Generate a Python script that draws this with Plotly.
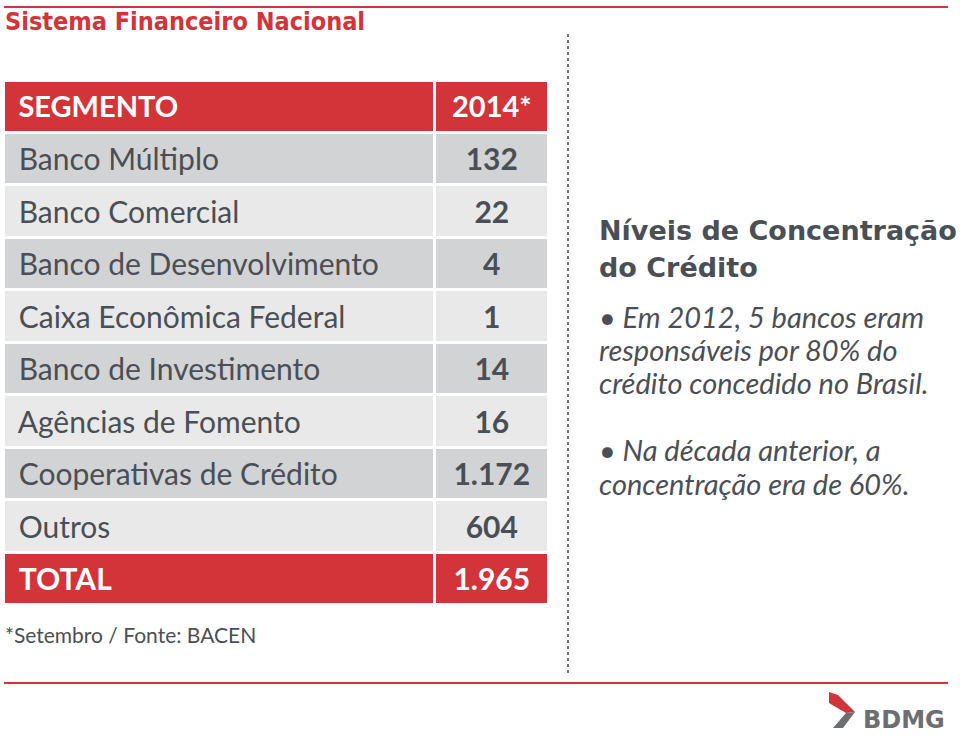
import plotly.graph_objects as go

segmentos = ["Banco Múltiplo", "Banco Comercial", "Banco de Desenvolvimento",
             "Caixa Econômica Federal", "Banco de Investimento", "Agências de Fomento",
             "Cooperativas de Crédito", "Outros"]
valores = [132, 22, 4, 1, 14, 16, 1172, 604]
total = 1965
header = ["SEGMENTO", "2014*"]
titulo = "Sistema Financeiro Nacional"
painel_titulo = ["Níveis de Concentração", "do Crédito"]
bullet1 = ["• Em 2012, 5 bancos eram", "responsáveis por 80% do", "crédito concedido no Brasil."]
bullet2 = ["• Na década anterior, a", "concentração era de 60%."]
fonte = "*Setembro / Fonte: BACEN"

W, H = 960, 736
RED = "#d3343a"
GREY_TXT = "#4a4f56"
DARK = "#d2d3d4"
LIGHT = "#e9e9e9"
NB = "\u00a0"

def fmt(v):
    return f"{v:,}".replace(",", ".")

def px(x):
    return x / W

def py(y):
    return 1 - y / H

col1 = [f"<span>{NB}{s.replace(' ', NB)}</span>" for s in segmentos] + [NB + "<b>TOTAL</b>"]
col2 = [f"<b>{fmt(v)}</b>" for v in valores] + [f"<b>{fmt(total)}</b>"]
n = len(segmentos)
fills = [DARK if i % 2 == 0 else LIGHT for i in range(n)] + [RED]
fcolors = [GREY_TXT] * n + ["white"]

fig = go.Figure()
fig.add_trace(go.Table(
    domain=dict(x=[px(3), px(549)], y=[py(609), py(80)]),
    columnwidth=[430, 114],
    header=dict(values=[NB + f"<b>{header[0]}</b>", f"<b>{header[1]}</b>"],
                fill_color=RED, font=dict(color="white", size=29, family="Lato"),
                align=["left", "center"], height=52,
                line=dict(color="white", width=3)),
    cells=dict(values=[col1, col2],
               fill_color=[fills, fills],
               font=dict(color=[fcolors, fcolors], size=30, family="Lato"),
               align=["left", "center"], height=52.5,
               line=dict(color="white", width=3)),
))

shapes = [
    dict(type="line", xref="paper", yref="paper", x0=px(4), x1=px(948), y0=py(7), y1=py(7),
         line=dict(color=RED, width=2)),
    dict(type="line", xref="paper", yref="paper", x0=px(4), x1=px(948), y0=py(683), y1=py(683),
         line=dict(color=RED, width=2)),
    dict(type="line", xref="paper", yref="paper", x0=px(568), x1=px(568), y0=py(34), y1=py(673),
         line=dict(color="#777777", width=2, dash="dot")),
]
def poly(pts, color):
    d = "M " + " L ".join(f"{px(x)},{py(y)}" for x, y in pts) + " Z"
    return dict(type="path", xref="paper", yref="paper", path=d, fillcolor=color, line=dict(width=0))
shapes.append(poly([(829, 692), (838, 695), (855, 712), (846, 713), (829, 703)], RED))
shapes.append(poly([(846, 713), (855, 712), (843, 728), (833, 728)], "#6d6e71"))

ann = []
ann.append(dict(text=f"<b>{titulo}</b>", x=px(3), y=py(22), xref="paper", yref="paper", xanchor="left",
                yanchor="middle", showarrow=False,
                font=dict(family="DejaVu Sans Condensed, Roboto Condensed, Roboto",
                          size=25, color=RED)))
for i, t in enumerate(painel_titulo):
    ann.append(dict(text=f"<b>{t}</b>", x=px(597), y=py(230 + 37 * i), xref="paper", yref="paper",
                    xanchor="left", yanchor="middle", showarrow=False,
                    font=dict(family="DejaVu Sans", size=27, color=GREY_TXT)))
for i, t in enumerate(bullet1):
    ann.append(dict(text=f"<i>{t}</i>", x=px(597), y=py(316 + 33 * i), xref="paper", yref="paper",
                    xanchor="left", yanchor="middle", showarrow=False,
                    font=dict(family="Lato", size=29, color=GREY_TXT)))
for i, t in enumerate(bullet2):
    ann.append(dict(text=f"<i>{t}</i>", x=px(597), y=py(449 + 34 * i), xref="paper", yref="paper",
                    xanchor="left", yanchor="middle", showarrow=False,
                    font=dict(family="Lato", size=29, color=GREY_TXT)))
ann.append(dict(text=fonte, x=px(3), y=py(634), xref="paper", yref="paper", xanchor="left",
                yanchor="middle", showarrow=False,
                font=dict(family="Lato", size=21, color=GREY_TXT)))
ann.append(dict(text="<b>BDMG</b>", x=px(861), y=py(720), xref="paper", yref="paper", xanchor="left",
                yanchor="middle", showarrow=False,
                font=dict(family="DejaVu Sans", size=24, color="#6d6e71")))

fig.update_layout(width=W, height=H, margin=dict(l=0, r=0, t=0, b=0),
                  paper_bgcolor="white", plot_bgcolor="white",
                  shapes=shapes, annotations=ann)
fig.write_html("out.html", config={"displayModeBar": False})

with open("out.html", encoding="utf-8") as f:
    html = f.read()
html = html.replace("<body>", '<body style="margin:0;padding:0;overflow:hidden">', 1)
with open("out.html", "w", encoding="utf-8") as f:
    f.write(html)
